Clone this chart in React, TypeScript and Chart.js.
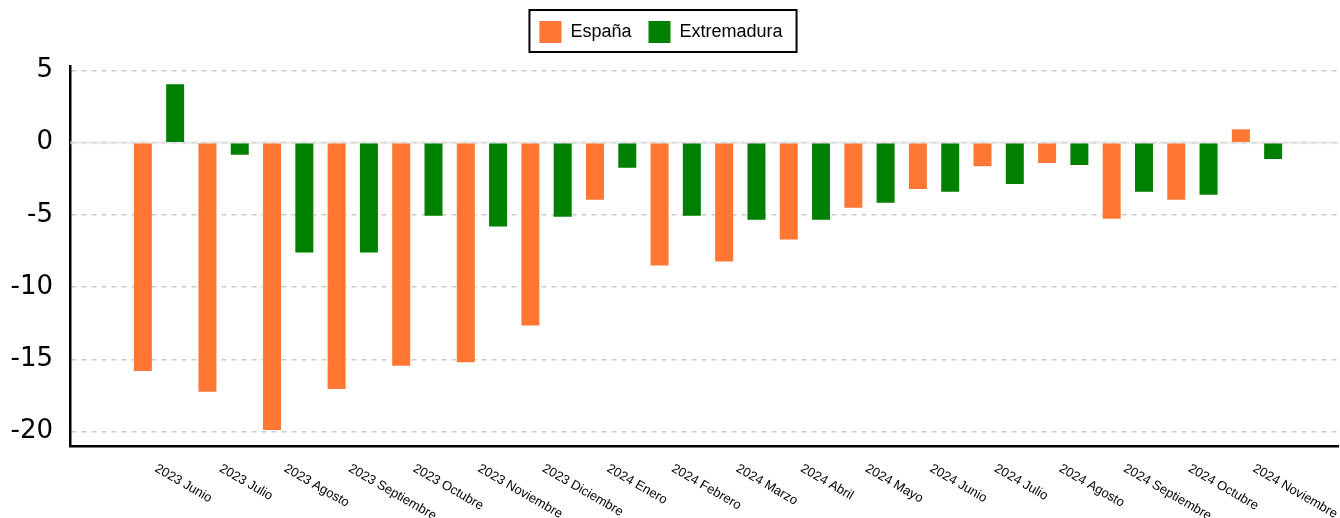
import React, { useEffect, useRef } from "react";
import { Chart, registerables } from "chart.js";

Chart.register(...registerables);

const categories = [
  "2023 Junio", "2023 Julio", "2023 Agosto", "2023 Septiembre", "2023 Octubre",
  "2023 Noviembre", "2023 Diciembre", "2024 Enero", "2024 Febrero", "2024 Marzo",
  "2024 Abril", "2024 Mayo", "2024 Junio", "2024 Julio", "2024 Agosto",
  "2024 Septiembre", "2024 Octubre", "2024 Noviembre",
];

const espana = [
  -15.8, -17.25, -19.9, -17.05, -15.45, -15.2, -12.65, -3.95, -8.5, -8.23,
  -6.7, -4.5, -3.2, -1.62, -1.41, -5.26, -3.95, 0.93,
];

const extremadura = [
  4.05, -0.84, -7.6, -7.6, -5.05, -5.8, -5.12, -1.74, -5.05, -5.33,
  -5.33, -4.16, -3.4, -2.85, -1.55, -3.4, -3.6, -1.13,
];

const yTickValues = [5, 0, -5, -10, -15, -20];

const ORANGE = "#FF7733";
const GREEN = "#008000";

const xLabelsPlugin = {
  id: "xLabels",
  afterDraw(chart: any) {
    const xs = chart.scales.x;
    const ctx = chart.ctx;
    ctx.save();
    ctx.font = '13px "Liberation Sans", Arial, sans-serif';
    ctx.fillStyle = "#000";
    ctx.textAlign = "left";
    ctx.textBaseline = "top";
    categories.forEach((label, i) => {
      const px = xs.getPixelForValue(i);
      ctx.save();
      ctx.translate(px, xs.top + 16);
      ctx.rotate(Math.PI / 6);
      ctx.fillText(label, 0, 0);
      ctx.restore();
    });
    ctx.restore();
  },
};

const zeroLinePlugin = {
  id: "zeroLine",
  beforeDatasetsDraw(chart: any) {
    const ys = chart.scales.y;
    const area = chart.chartArea;
    const ctx = chart.ctx;
    const y = ys.getPixelForValue(0);
    ctx.save();
    ctx.strokeStyle = "rgba(225,225,225,0.6)";
    ctx.lineWidth = 3;
    ctx.beginPath();
    ctx.moveTo(area.left, y);
    ctx.lineTo(area.right, y);
    ctx.stroke();
    ctx.restore();
  },
};

const legendShiftPlugin = {
  id: "legendShift",
  afterLayout(chart: any) {
    const lg = chart.legend;
    if (!lg) return;
    lg.left -= 8;
    lg.right -= 8;
  },
};

const legendBorderPlugin = {
  id: "legendBorder",
  afterDraw(chart: any) {
    const lg = chart.legend;
    if (!lg || !lg.legendHitBoxes || !lg.legendHitBoxes.length) return;
    const hb = lg.legendHitBoxes;
    const first = hb[0];
    const last = hb[hb.length - 1];
    const x1 = first.left - 10;
    const x2 = last.left + last.width + 14;
    const y1 = first.top - 11;
    const y2 = first.top + first.height + 9;
    const ctx = chart.ctx;
    ctx.save();
    ctx.strokeStyle = "#000";
    ctx.lineWidth = 2;
    ctx.strokeRect(x1, y1, x2 - x1, y2 - y1);
    ctx.restore();
  },
};

export default function App() {
  const ref = useRef<HTMLCanvasElement | null>(null);

  useEffect(() => {
    document.body.style.margin = "0";
    if (!ref.current) return;
    const chart = new Chart(ref.current, {
      type: "bar",
      data: {
        datasets: [
          {
            label: "España",
            data: espana.map((v, i) => ({ x: i, y: v })),
            backgroundColor: ORANGE,
            borderWidth: 0,
          },
          {
            label: "Extremadura",
            data: extremadura.map((v, i) => ({ x: i, y: v })),
            backgroundColor: GREEN,
            borderWidth: 0,
          },
        ],
      },
      options: {
        animation: false,
        responsive: true,
        maintainAspectRatio: false,
        layout: { padding: { top: 4, right: 2, left: 0, bottom: 0 } },
        datasets: {
          bar: { categoryPercentage: 1.0, barPercentage: 0.557 },
        },
        plugins: {
          tooltip: { enabled: false },
          legend: {
            display: true,
            position: "top",
            labels: {
              boxWidth: 22,
              boxHeight: 22,
              padding: 17,
              color: "#000",
              font: { family: '"Liberation Sans", Arial, sans-serif', size: 18 },
            },
          },
          title: {
            display: true,
            text: " ",
            position: "top",
            weight: 500,
            font: { size: 1 },
            padding: { top: 0, bottom: 12 },
          },
        },
        scales: {
          x: {
            type: "linear",
            offset: false,
            min: -1.378,
            max: 18.254,
            ticks: { display: false },
            grid: { display: false, drawTicks: false, offset: false },
            border: { display: true, color: "#000", width: 2.5 },
            afterFit: (s: any) => {
              s.height = 72;
            },
          },
          y: {
            type: "linear",
            min: -21,
            max: 5.3,
            afterBuildTicks: (s: any) => {
              s.ticks = yTickValues.slice().reverse().map((v) => ({ value: v }));
            },
            ticks: {
              padding: 17,
              color: "#000",
              font: { family: '"DejaVu Sans", sans-serif', size: 26 },
            },
            grid: { color: "#cccccc", lineWidth: 1.5, drawTicks: false },
            border: { display: true, color: "#000", width: 2.5, dash: [5, 5] },
            afterFit: (s: any) => {
              s.width = 70;
            },
          },
        },
      },
      plugins: [legendShiftPlugin, zeroLinePlugin, xLabelsPlugin, legendBorderPlugin],
    });
    return () => chart.destroy();
  }, []);

  return (
    <div style={{ width: "1340px", height: "518px", position: "relative" }}>
      <canvas ref={ref} />
    </div>
  );
}
